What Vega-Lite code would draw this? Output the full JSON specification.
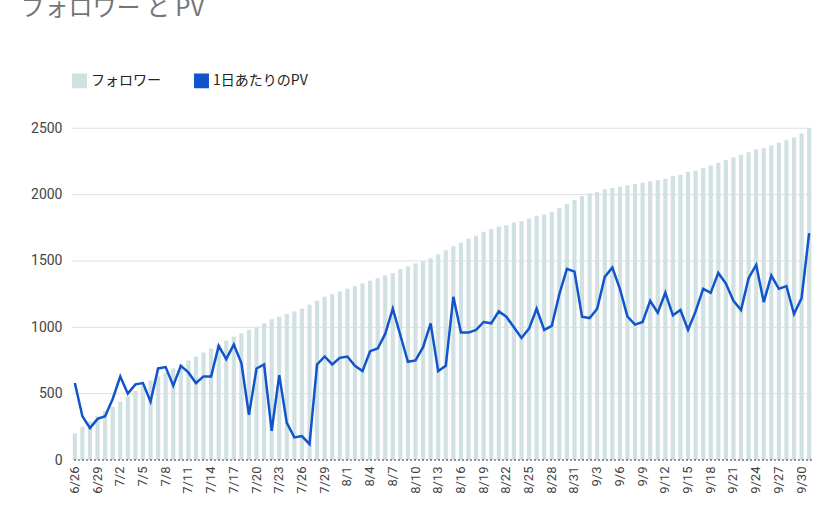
{
  "$schema": "https://vega.github.io/schema/vega-lite/v6.json",
  "autosize": {"type": "none"},
  "padding": {"left": 72, "top": 115, "right": 25, "bottom": 67},
  "width": 740,
  "height": 345,
  "background": "white",
  "config": {
    "font": "Noto Sans CJK JP",
    "view": {"stroke": null},
    "axis": {"labelColor": "#444", "labelFont": "Roboto", "labelFontSize": 13, "domain": false, "ticks": false, "grid": false, "title": null},
    "legend": {"orient": "top", "direction": "horizontal", "title": null, "labelFontSize": 14, "labelColor": "#222", "symbolType": "square", "symbolSize": 180, "columnPadding": 30, "offset": 24}
  },
  "title": {"text": "フォロワー と PV", "anchor": "start", "dx": -10, "offset": 52, "fontSize": 24, "fontWeight": "normal", "color": "#757575", "font": "Noto Sans CJK JP"},
  "data": {
    "values": [
      {"d":"6/26","f":200,"pv":580},{"d":"6/27","f":250,"pv":330},{"d":"6/28","f":290,"pv":240},{"d":"6/29","f":330,"pv":310},{"d":"6/30","f":370,"pv":330},
      {"d":"7/1","f":400,"pv":460},{"d":"7/2","f":440,"pv":630},{"d":"7/3","f":480,"pv":500},{"d":"7/4","f":520,"pv":570},{"d":"7/5","f":560,"pv":580},
      {"d":"7/6","f":600,"pv":440},{"d":"7/7","f":630,"pv":690},{"d":"7/8","f":660,"pv":700},{"d":"7/9","f":690,"pv":560},{"d":"7/10","f":720,"pv":710},
      {"d":"7/11","f":750,"pv":660},{"d":"7/12","f":780,"pv":580},{"d":"7/13","f":810,"pv":630},{"d":"7/14","f":840,"pv":630},{"d":"7/15","f":870,"pv":860},
      {"d":"7/16","f":900,"pv":760},{"d":"7/17","f":930,"pv":870},{"d":"7/18","f":955,"pv":730},{"d":"7/19","f":980,"pv":340},{"d":"7/20","f":1000,"pv":690},
      {"d":"7/21","f":1030,"pv":720},{"d":"7/22","f":1060,"pv":220},{"d":"7/23","f":1080,"pv":640},{"d":"7/24","f":1100,"pv":280},{"d":"7/25","f":1120,"pv":170},
      {"d":"7/26","f":1140,"pv":180},{"d":"7/27","f":1170,"pv":120},{"d":"7/28","f":1200,"pv":720},{"d":"7/29","f":1230,"pv":780},{"d":"7/30","f":1250,"pv":720},
      {"d":"7/31","f":1270,"pv":770},{"d":"8/1","f":1290,"pv":780},{"d":"8/2","f":1310,"pv":710},{"d":"8/3","f":1330,"pv":670},{"d":"8/4","f":1350,"pv":820},
      {"d":"8/5","f":1370,"pv":840},{"d":"8/6","f":1390,"pv":950},{"d":"8/7","f":1410,"pv":1140},{"d":"8/8","f":1440,"pv":940},{"d":"8/9","f":1460,"pv":740},
      {"d":"8/10","f":1480,"pv":750},{"d":"8/11","f":1500,"pv":850},{"d":"8/12","f":1520,"pv":1030},{"d":"8/13","f":1550,"pv":670},{"d":"8/14","f":1580,"pv":710},
      {"d":"8/15","f":1610,"pv":1230},{"d":"8/16","f":1640,"pv":960},{"d":"8/17","f":1670,"pv":960},{"d":"8/18","f":1690,"pv":980},{"d":"8/19","f":1720,"pv":1040},
      {"d":"8/20","f":1740,"pv":1030},{"d":"8/21","f":1760,"pv":1120},{"d":"8/22","f":1770,"pv":1080},{"d":"8/23","f":1790,"pv":1000},{"d":"8/24","f":1800,"pv":920},
      {"d":"8/25","f":1820,"pv":990},{"d":"8/26","f":1840,"pv":1140},{"d":"8/27","f":1850,"pv":980},{"d":"8/28","f":1870,"pv":1010},{"d":"8/29","f":1900,"pv":1250},
      {"d":"8/30","f":1930,"pv":1440},{"d":"8/31","f":1960,"pv":1420},{"d":"9/1","f":1990,"pv":1080},{"d":"9/2","f":2010,"pv":1070},{"d":"9/3","f":2020,"pv":1140},
      {"d":"9/4","f":2040,"pv":1380},{"d":"9/5","f":2050,"pv":1450},{"d":"9/6","f":2060,"pv":1290},{"d":"9/7","f":2070,"pv":1080},{"d":"9/8","f":2080,"pv":1020},
      {"d":"9/9","f":2090,"pv":1040},{"d":"9/10","f":2100,"pv":1200},{"d":"9/11","f":2110,"pv":1110},{"d":"9/12","f":2120,"pv":1260},{"d":"9/13","f":2140,"pv":1090},
      {"d":"9/14","f":2150,"pv":1130},{"d":"9/15","f":2170,"pv":980},{"d":"9/16","f":2180,"pv":1120},{"d":"9/17","f":2200,"pv":1290},{"d":"9/18","f":2220,"pv":1260},
      {"d":"9/19","f":2240,"pv":1410},{"d":"9/20","f":2260,"pv":1330},{"d":"9/21","f":2280,"pv":1200},{"d":"9/22","f":2300,"pv":1130},{"d":"9/23","f":2320,"pv":1370},
      {"d":"9/24","f":2340,"pv":1470},{"d":"9/25","f":2350,"pv":1190},{"d":"9/26","f":2370,"pv":1390},{"d":"9/27","f":2390,"pv":1290},{"d":"9/28","f":2410,"pv":1310},
      {"d":"9/29","f":2430,"pv":1100},{"d":"9/30","f":2460,"pv":1220},{"d":"10/1","f":2500,"pv":1710}
    ]
  },
  "encoding": {
    "x": {
      "field": "d", "type": "ordinal", "sort": null,
      "scale": {"paddingInner": 0.45, "paddingOuter": 0.1},
      "axis": {
        "labelAngle": -90, "labelPadding": 6, "labelFontSize": 13,
        "values": ["6/26","6/29","7/2","7/5","7/8","7/11","7/14","7/17","7/20","7/23","7/26","7/29","8/1","8/4","8/7","8/10","8/13","8/16","8/19","8/22","8/25","8/28","8/31","9/3","9/6","9/9","9/12","9/15","9/18","9/21","9/24","9/27","9/30"]
      }
    }
  },
  "layer": [
    {
      "mark": {"type": "rule", "color": "#e0e0e0"},
      "data": {"values": [{"v": 500}, {"v": 1000}, {"v": 1500}, {"v": 2000}, {"v": 2500}]},
      "encoding": {"x": null, "y": {"field": "v", "type": "quantitative"}}
    },
    {
      "mark": {"type": "bar"},
      "encoding": {
        "y": {"field": "f", "type": "quantitative", "scale": {"domain": [0, 2500]}, "axis": {"values": [0, 500, 1000, 1500, 2000, 2500], "format": "d", "labelPadding": 10, "labelFontSize": 14}},
        "color": {"datum": "フォロワー", "scale": {"domain": ["フォロワー", "1日あたりのPV"], "range": ["#d0e0e3", "#1155cc"]}}
      }
    },
    {
      "mark": {"type": "line", "strokeWidth": 2.5},
      "encoding": {
        "y": {"field": "pv", "type": "quantitative"},
        "color": {"datum": "1日あたりのPV"}
      }
    },
    {
      "mark": {"type": "rule", "color": "#333", "strokeDash": [2, 2]},
      "data": {"values": [{"v": 0}]},
      "encoding": {"x": null, "y": {"field": "v", "type": "quantitative"}}
    }
  ],
  "resolve": {"scale": {"y": "shared"}}
}
